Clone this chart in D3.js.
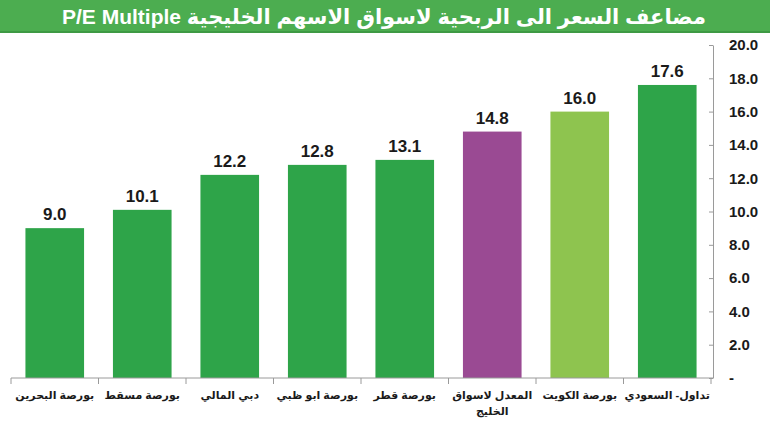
<!DOCTYPE html>
<html><head><meta charset="utf-8">
<script src="https://cdn.jsdelivr.net/npm/d3@7"></script>
<style>body{margin:0;background:#fff}svg{display:block}</style>
</head><body>
<svg id="c" width="770" height="424"></svg>
<script>
const titleText = "مضاعف السعر الى الربحية لاسواق الاسهم الخليجية P/E Multiple";
const categories = ["بورصة البحرين","بورصة مسقط","دبي المالي","بورصة ابو ظبي","بورصة قطر","المعدل لاسواق الخليج","بورصة الكويت","تداول- السعودي"];
const labelLines = [["بورصة البحرين"],["بورصة مسقط"],["دبي المالي"],["بورصة ابو ظبي"],["بورصة قطر"],["المعدل لاسواق","الخليج"],["بورصة الكويت"],["تداول- السعودي"]];
const values = [9.0,10.1,12.2,12.8,13.1,14.8,16.0,17.6];
const barColors = ["#2ea449","#2ea449","#2ea449","#2ea449","#2ea449","#9a4a93","#8ec44f","#2ea449"];
const yTicks = [0,2,4,6,8,10,12,14,16,18,20];

const svg = d3.select("#c");
const font = "Arial, 'Liberation Sans', 'DejaVu Sans', sans-serif";

// title bar
svg.append("rect").attr("x",0).attr("y",0).attr("width",770).attr("height",32).attr("fill","#4cad50");
svg.append("rect").attr("x",0).attr("y",31).attr("width",770).attr("height",2).attr("fill","#3e9a44");
svg.append("text").attr("x",384).attr("y",24).attr("text-anchor","middle")
  .attr("fill","#fff").attr("font-family",font).attr("font-weight","bold").attr("font-size",21)
  .attr("direction","rtl").text(titleText);

const x = d3.scaleBand().domain(categories).range([11,711]).paddingInner(0.33).paddingOuter(0.165);
const y = d3.scaleLinear().domain([0,20]).range([378,45]);

svg.selectAll("rect.bar").data(values).enter().append("rect").attr("class","bar")
  .attr("x",(d,i)=>x(categories[i])).attr("width",x.bandwidth())
  .attr("y",d=>y(d)).attr("height",d=>y(0)-y(d))
  .attr("fill",(d,i)=>barColors[i]);

svg.selectAll("text.val").data(values).enter().append("text").attr("class","val")
  .attr("x",(d,i)=>x(categories[i])+x.bandwidth()/2).attr("y",d=>y(d)-8)
  .attr("text-anchor","middle").attr("font-family",font).attr("font-weight","bold")
  .attr("font-size",17).attr("fill","#1a1a1a").text(d=>d.toFixed(1));

// right y axis
const yAxis = d3.axisRight(y).tickValues(yTicks).tickSize(0).tickPadding(16)
  .tickFormat(d=>d===0?"-":d.toFixed(1));
const ya = svg.append("g").attr("transform","translate(713,0)").call(yAxis);
ya.select(".domain").attr("stroke","#9a9a9a");
ya.selectAll(".tick line").remove();
ya.selectAll(".tick").append("line").attr("x1",-4).attr("x2",0).attr("stroke","#9a9a9a");
ya.selectAll(".tick text").attr("font-family",font).attr("font-weight","bold").attr("font-size",15).attr("fill","#1a1a1a");

// x axis baseline and category ticks
svg.append("line").attr("x1",11).attr("x2",713).attr("y1",378).attr("y2",378).attr("stroke","#9a9a9a");
const bounds = d3.range(categories.length+1).map(i=>11+i*(700/categories.length));
svg.selectAll("line.ct").data(bounds).enter().append("line").attr("class","ct")
  .attr("x1",d=>d).attr("x2",d=>d).attr("y1",378).attr("y2",384).attr("stroke","#9a9a9a");

const lab = svg.selectAll("text.cat").data(labelLines).enter().append("text").attr("class","cat")
  .attr("x",(d,i)=>x(categories[i])+x.bandwidth()/2).attr("y",399)
  .attr("text-anchor","middle").attr("font-family",font).attr("font-weight","bold")
  .attr("font-size",11).attr("fill","#1a1a1a").attr("direction","rtl");
lab.each(function(lines,i){
  const t = d3.select(this);
  lines.forEach((l,j)=>t.append("tspan").attr("x",x(categories[i])+x.bandwidth()/2).attr("dy",j?16:0).text(l));
});
</script>
</body></html>
